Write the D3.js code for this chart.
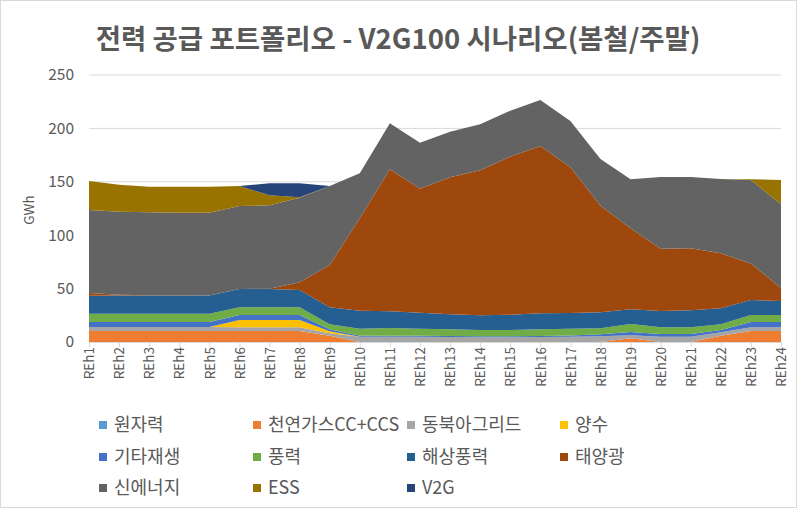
<!DOCTYPE html>
<html><head><meta charset="utf-8">
<script src="https://cdn.jsdelivr.net/npm/d3@7"></script>
<style>html,body{margin:0;padding:0;background:#fff}svg{display:block}</style>
</head><body>
<svg id="c" width="797" height="508"></svg>
<script>
const categories = ["REh1","REh2","REh3","REh4","REh5","REh6","REh7","REh8","REh9","REh10","REh11","REh12","REh13","REh14","REh15","REh16","REh17","REh18","REh19","REh20","REh21","REh22","REh23","REh24"];
const seriesNames = ["원자력","천연가스CC+CCS","동북아그리드","양수","기타재생","풍력","해상풍력","태양광","신에너지","ESS","V2G"];
const nuclear   = [0,0,0,0,0,0,0,0,0,0,0,0,0,0,0,0,0,0,0,0,0,0,0,0];
const gasCCS    = [10.3,10.3,10.3,10.3,10.3,10.3,10.3,10.3,5.9,0,0,0,0,0,0,0,0,0,3.4,0,0,5.9,10.3,10.3];
const neaGrid   = [3.7,3.7,3.7,3.7,3.7,3.4,3.4,3.4,2.2,5,5,5,4.7,4.4,4.4,4.7,5,5.3,2.9,5,5,3.2,3.5,3.5];
const pumped    = [0,0,0,0,0,6.9,6.9,6.9,1.9,0,0,0,0,0,0,0,0,0,0,0,0,0,0,0];
const otherRen  = [4.7,4.7,4.7,4.7,4.7,4.7,4.7,4.7,1.9,0.9,0.9,0.9,0.9,0.9,0.9,0.9,1.0,1.9,3.1,2.5,2.5,2.1,4.9,4.9];
const wind      = [7.8,7.8,7.8,7.8,7.8,7.2,7.2,7.2,4.7,6.6,7.2,6.6,6.3,5.9,5.9,6.3,6.5,5.6,7.5,6.3,6.3,5.4,6.6,6.6];
const offshore  = [16.9,17,17,17,17,17.1,17.1,16.2,15.9,16.8,15.8,15,14,13.8,14.4,15,14.7,15,13.7,15.2,15.9,14.9,14,13.1];
const solar     = [2.5,0.8,0.3,0.2,0,0,0.3,7.2,39.6,86.5,132.8,116.1,128.3,135.8,147.9,156.6,136.4,99.8,75.8,58.4,58,51.5,34.1,12.1];
const newEnergy = [77.7,77.7,77.6,77.3,77.5,77.7,78.1,79.1,73.9,42.2,43.2,43,42.7,43,43.1,43.1,43.4,43.7,45.9,67.1,66.8,69.6,78.3,78.4];
const ess       = [27.1,25.3,24,24.4,24.4,18.7,9.3,0.5,0,0,0,0,0,0,0,0,0,0,0,0,0,0,0.8,22.8];
const v2g       = [0,0,0,0,0,0,11.3,13.1,0,0,0,0,0,0,0,0,0,0,0,0,0,0,0,0];
const yTicks = [0,50,100,150,200,250];
const colors = ["#5B9BD5","#ED7D31","#A5A5A5","#FFC000","#4472C4","#70AD47","#255E91","#9E480E","#636363","#997300","#264478"];

const seriesValues = [nuclear,gasCCS,neaGrid,pumped,otherRen,wind,offshore,solar,newEnergy,ess,v2g];
const rows = categories.map((c,i)=>{const r={cat:c};seriesNames.forEach((n,k)=>r[n]=seriesValues[k][i]);return r;});

const svg = d3.select("#c");
const font = "'Noto Sans CJK KR','Noto Sans',sans-serif";
svg.append("rect").attr("x",0.5).attr("y",0.5).attr("width",796).attr("height",507).attr("fill","#fff").attr("stroke","#d9d9d9");

const x = d3.scalePoint().domain(categories).range([89,781]).padding(0);
const y = d3.scaleLinear().domain([0,250]).range([342,75]);

// gridlines
svg.append("g").selectAll("line").data(yTicks.slice(1)).join("line")
  .attr("x1",89).attr("x2",781).attr("y1",d=>y(d)).attr("y2",d=>y(d))
  .attr("stroke","#d9d9d9").attr("stroke-width",1);

const stack = d3.stack().keys(seriesNames);
const layers = stack(rows);
const area = d3.area().x(d=>x(d.data.cat)).y0(d=>y(d[0])).y1(d=>y(d[1]));
svg.append("g").selectAll("path").data(layers).join("path")
  .attr("d",area).attr("fill",(d,i)=>colors[i]);

// y axis labels
const yAxis = d3.axisLeft(y).tickValues(yTicks).tickSize(0).tickPadding(0);
const yg = svg.append("g").attr("transform","translate(74,0)").call(yAxis);
yg.select(".domain").remove();
yg.selectAll("text").attr("font-family",font).attr("font-size",15.5).attr("fill","#595959");

// x axis
const xAxis = d3.axisBottom(x).tickSize(5).tickSizeOuter(0);
const xg = svg.append("g").attr("transform","translate(0,342)").call(xAxis);
xg.select(".domain").attr("stroke","#d9d9d9").attr("d","M89,0.5H781");
xg.selectAll(".tick line").attr("stroke","#d9d9d9");
xg.selectAll("text").attr("font-family",font).attr("font-size",13.5).attr("fill","#595959")
  .attr("transform","rotate(-90)").attr("text-anchor","end").attr("x",-5).attr("y",0).attr("dy","0.35em");

// y title
svg.append("text").attr("transform","translate(34,210) rotate(-90)").attr("text-anchor","middle")
  .attr("font-family",font).attr("font-size",13.5).attr("fill","#595959").text("GWh");

// title
svg.append("text").attr("x",398).attr("y",49).attr("text-anchor","middle")
  .attr("font-family",font).attr("font-weight","bold").attr("font-size",27.5).attr("fill","#595959")
  .text("전력 공급 포트폴리오 - V2G100 시나리오(봄철/주말)");

// legend
const colX = [99,253,407,560];
const rowY = [425,457,488];
const lg = svg.append("g");
seriesNames.forEach((n,i)=>{
  const cx = colX[i%4], cy = rowY[Math.floor(i/4)];
  lg.append("rect").attr("x",cx).attr("y",cy-4).attr("width",8).attr("height",8).attr("fill",colors[i]);
  lg.append("text").attr("x",cx+15).attr("y",cy).attr("dy","0.35em")
    .attr("font-family",font).attr("font-size",18).attr("fill","#595959").text(n);
});
</script>
</body></html>
